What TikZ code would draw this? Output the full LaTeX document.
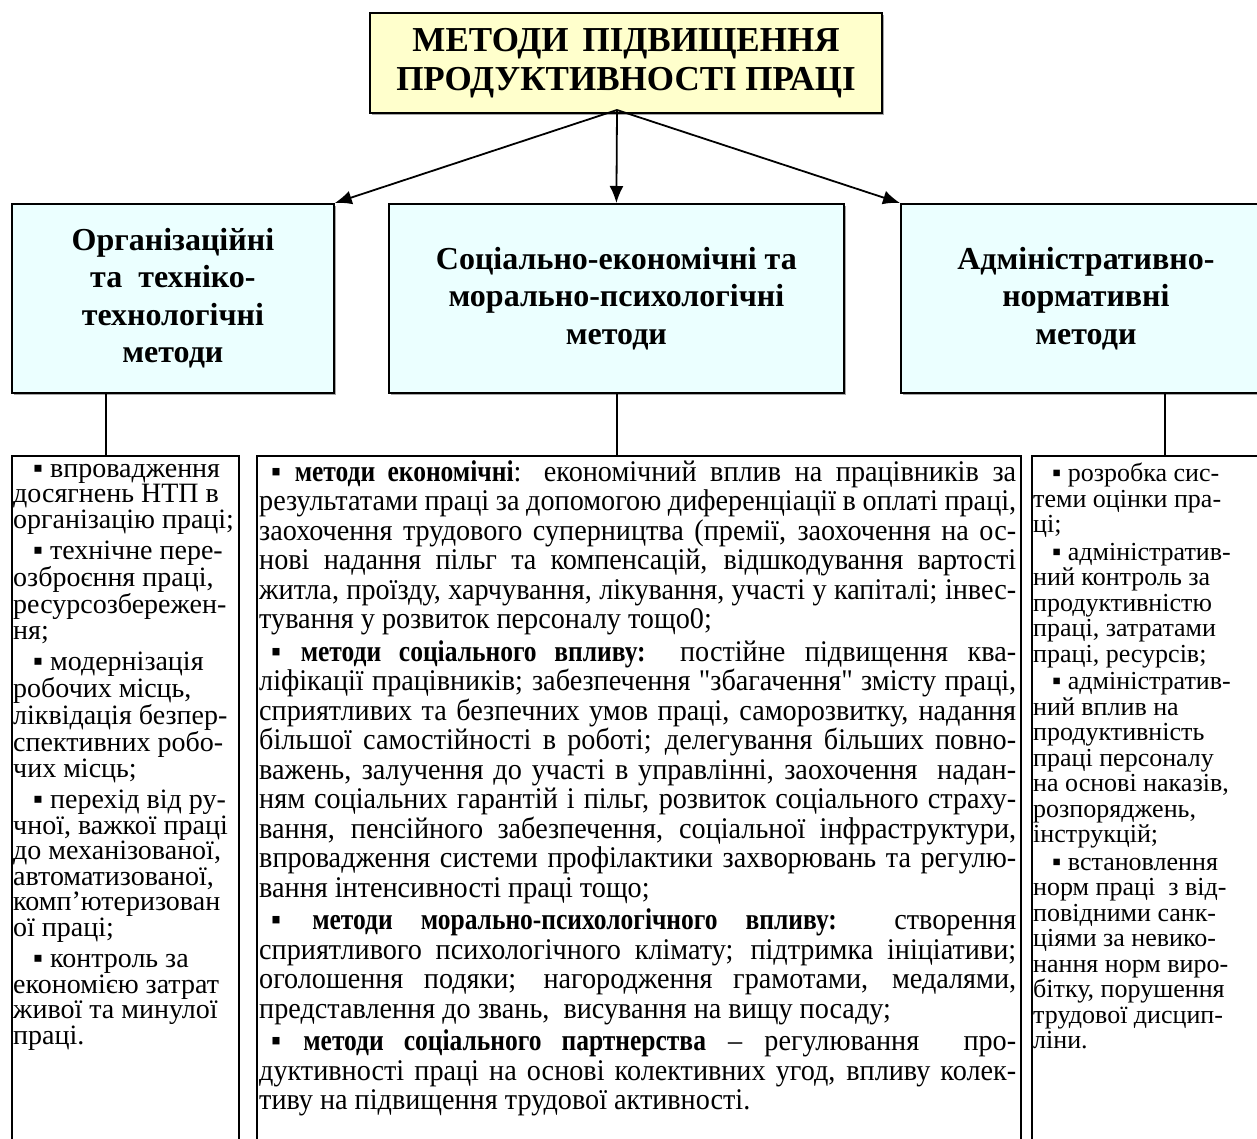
\documentclass[tikz,border=0pt]{standalone}
\usepackage{fontspec}
\setmainfont{LiberationSerif}[Extension=.ttf,UprightFont=*-Regular,BoldFont=*-Bold,
  ItalicFont=*-Italic,BoldItalicFont=*-BoldItalic]
\newfontfamily\seriffont{LiberationSerif}[Extension=.ttf,UprightFont=*-Regular,BoldFont=*-Bold]
\newfontfamily\narrowfont{LiberationSerif}[Extension=.ttf,UprightFont=*-Regular,
  BoldFont=*-Bold,UprightFeatures={FakeStretch=0.94},BoldFeatures={FakeStretch=0.85}]
\usetikzlibrary{arrows.meta,shadows}
\definecolor{titlefill}{RGB}{255,255,204}
\definecolor{headfill}{RGB}{235,255,255}

\begin{document}
\begin{tikzpicture}[x=1pt,y=-1pt,
  boxshadow/.style={general shadow={fill=gray!70,shadow xshift=2pt,shadow yshift=-2pt}},
  title/.style={draw,line width=2pt,fill=titlefill,boxshadow,minimum width=512pt,minimum height=100pt,
    align=center,font=\seriffont\bfseries\fontsize{35}{39}\selectfont},
  head/.style={draw,line width=1.8pt,fill=headfill,boxshadow,minimum height=189pt,anchor=north west,
    align=center,font=\seriffont\bfseries\fontsize{32}{37.5}\selectfont},
  listbox/.style={draw,line width=1.6pt,minimum height=800pt,anchor=north west},
  listtext/.style={anchor=north west,inner sep=0pt,align=left,font=\seriffont\fontsize{26}{25.5}\selectfont},
  link/.style={line width=1.8pt},
  arr/.style={link,-{Latex[length=17pt,width=14pt]}}]
\clip (0,0) rectangle (1257,1139);
\fill[white] (0,0) rectangle (1257,1139);

% title
\node[title] (top) at (626,63) {МЕТОДИ\hspace{14pt}ПІДВИЩЕННЯ\\ПРОДУКТИВНОСТІ ПРАЦІ};
\coordinate (src) at (617,110);

% groups of methods
\node[head,minimum width=322pt] (org) at (11,203) {Організаційні\\та~~техніко-\\технологічні\\методи};
\node[head,minimum width=455pt] (soc) at (388,203) {Соціально-економічні та\\морально-психологічні\\методи};
\node[head,minimum width=370pt] (adm) at (900,203) {Адміністративно-\\нормативні\\методи};

\draw[arr] (src) -- (org.north east);
\draw[arr] (src) -- (soc.north);
\draw[arr] (src) -- (adm.north west);

% lists
\node[listbox,minimum width=227pt] (lbox) at (11,455) {};
\node[listbox,minimum width=764pt] (mbox) at (256,455) {};
\node[listbox,minimum width=240pt] (rbox) at (1031,455) {};

\draw[link] ([xshift=95pt]org.south west) -- ([xshift=95pt]lbox.north west);
\draw[link] ([xshift=229pt]soc.south west) -- ([xshift=361pt]mbox.north west);
\draw[link] ([xshift=265pt]adm.south west) -- ([xshift=134pt]rbox.north west);

\node[listtext,font=\seriffont\fontsize{28}{25.5}\selectfont] (ltext) at ([shift={(2,9)}]lbox.north west) {%
\hspace*{20pt}▪ впровадження\\досягнень НТП в\\організацію праці;\\[6pt]
\hspace*{20pt}▪ технічне пере-\\озброєння праці,\\ресурсозбережен-\\ня;\\[6pt]
\hspace*{20pt}▪ модернізація\\робочих місць,\\ліквідація безпер-\\спективних робо-\\чих місць;\\[6pt]
\hspace*{20pt}▪ перехід від ру-\\чної, важкої праці\\до механізованої,\\автоматизованої,\\комп’ютеризован\\ої праці;\\[6pt]
\hspace*{20pt}▪ контроль за\\економією затрат\\живої та минулої\\праці.};

\node[listtext,text width=757pt,align=justify,font=\narrowfont\fontsize{30}{29.5}\selectfont]
  (mtext) at ([shift={(3,5)}]mbox.north west) {\parindent=0pt\parskip=3pt
\hspace*{12pt}▪~\textbf{методи економічні}: економічний вплив на працівників за\linebreak
результатами праці за допомогою диференціації в оплаті праці,\linebreak
заохочення трудового суперництва (премії, заохочення на ос-\linebreak
нові надання пільг та компенсацій, відшкодування вартості\linebreak
житла, проїзду, харчування, лікування, участі у капіталі; інвес-\linebreak
тування у розвиток персоналу тощо0;\par
\hspace*{12pt}▪~\textbf{методи соціального впливу:} постійне підвищення ква-\linebreak
ліфікації працівників; забезпечення "збагачення" змісту праці,\linebreak
сприятливих та безпечних умов праці, саморозвитку, надання\linebreak
більшої самостійності в роботі; делегування більших повно-\linebreak
важень, залучення до участі в управлінні, заохочення~ надан-\linebreak
ням соціальних гарантій і пільг, розвиток соціального страху-\linebreak
вання, пенсійного забезпечення, соціальної інфраструктури,\linebreak
впровадження системи профілактики захворювань та регулю-\linebreak
вання інтенсивності праці тощо;\par
\hspace*{12pt}▪~\textbf{методи морально-психологічного впливу:} створення\linebreak
сприятливого психологічного клімату; підтримка ініціативи;\linebreak
оголошення подяки; нагородження грамотами, медалями,\linebreak
представлення до звань,~ висування на вищу посаду;\par
\hspace*{12pt}▪~\textbf{методи соціального партнерства} – регулювання~ про-\linebreak
дуктивності праці на основі колективних угод, впливу колек-\linebreak
тиву на підвищення трудової активності.};

\node[listtext] (rtext) at ([shift={(2,8)}]rbox.north west) {%
\hspace*{19pt}▪ розробка сис-\\теми оцінки пра-\\ці;\\[2pt]
\hspace*{19pt}▪ адміністратив-\\ний контроль за\\продуктивністю\\праці, затратами\\праці, ресурсів;\\[2pt]
\hspace*{19pt}▪ адміністратив-\\ний вплив на\\продуктивність\\праці персоналу\\на основі наказів,\\розпоряджень,\\інструкцій;\\[2pt]
\hspace*{19pt}▪ встановлення\\норм праці~ з від-\\повідними санк-\\ціями за невико-\\нання норм виро-\\бітку, порушення\\трудової дисцип-\\ліни.};
\end{tikzpicture}
\end{document}
